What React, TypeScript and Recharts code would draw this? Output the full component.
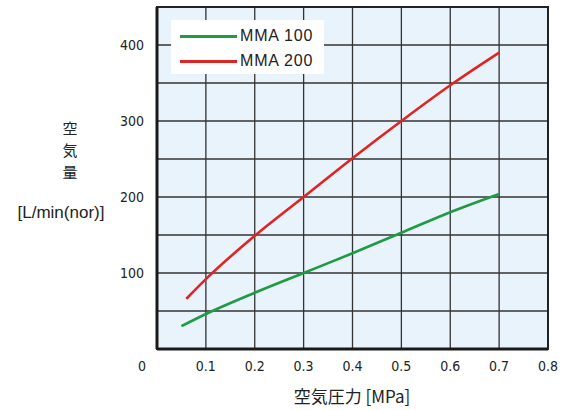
import React from "react";
import {
  LineChart,
  Line,
  XAxis,
  YAxis,
  CartesianGrid,
  ReferenceArea,
} from "recharts";

const mma100X = [0.05, 0.1, 0.2, 0.3, 0.4, 0.5, 0.6, 0.7];
const mma100Y = [30, 46, 74, 100, 126, 153, 180, 204];
const mma200X = [0.06, 0.1, 0.2, 0.3, 0.4, 0.5, 0.6, 0.7];
const mma200Y = [66, 92, 149, 200, 251, 300, 347, 390];
const xTicks = [0, 0.1, 0.2, 0.3, 0.4, 0.5, 0.6, 0.7, 0.8];
const yTicks = [0, 50, 100, 150, 200, 250, 300, 350, 400, 450];
const yLabeled = [100, 200, 300, 400];
const seriesNames = ["MMA 100", "MMA 200"];
const xTitle = "空気圧力 [MPa]";
const yTitleChars = ["空", "気", "量"];
const yUnit = "[L/min(nor)]";

const mma100 = mma100X.map((x, i) => ({ x, y: mma100Y[i] }));
const mma200 = mma200X.map((x, i) => ({ x, y: mma200Y[i] }));

const GREEN = "#1f9a45";
const RED = "#e02424";
const NUM_FONT = "'DejaVu Sans Condensed', 'Liberation Sans', sans-serif";
const JP_FONT = "'Noto Sans CJK JP', 'Liberation Sans', sans-serif";

const XTick = (props: any) => {
  const { x, y, payload } = props;
  const v = payload.value;
  const label = v === 0 ? "0" : v.toFixed(1);
  return (
    <text
      x={x + (v === 0 ? -15 : 0)}
      y={y + 14}
      textAnchor="middle"
      fontFamily={NUM_FONT}
      fontSize={14}
      fill="#222"
    >
      {label}
    </text>
  );
};

const YTick = (props: any) => {
  const { x, y, payload } = props;
  if (!yLabeled.includes(payload.value)) return <g />;
  return (
    <text
      x={x - 5}
      y={y + 5}
      textAnchor="end"
      fontFamily={NUM_FONT}
      fontSize={14}
      fill="#222"
    >
      {payload.value}
    </text>
  );
};

export default function App() {
  return (
    <div style={{ position: "absolute", left: 0, top: 0, width: 564, height: 410, background: "#fff" }}>
      <LineChart
        width={564}
        height={410}
        margin={{ top: 7, right: 16, bottom: 0, left: 0 }}
      >
        <CartesianGrid
          stroke="#333"
          strokeWidth={1.3}
          fill="#e9f3fc"
          fillOpacity={1}
          horizontalValues={yTicks}
          verticalValues={xTicks}
        />
        <XAxis
          type="number"
          dataKey="x"
          domain={[0, 0.8]}
          ticks={xTicks}
          tick={<XTick />}
          tickLine={false}
          axisLine={{ stroke: "#1a1a1a", strokeWidth: 3 }}
          height={61}
          allowDataOverflow
        />
        <YAxis
          type="number"
          dataKey="y"
          domain={[0, 450]}
          ticks={yTicks}
          tick={<YTick />}
          tickLine={false}
          axisLine={{ stroke: "#1a1a1a", strokeWidth: 3 }}
          width={157}
          interval={0}
          allowDataOverflow
        />
        <ReferenceArea
          x1={0}
          x2={0.8}
          y1={0}
          y2={450}
          fill="none"
          stroke="#222"
          strokeWidth={2}
          ifOverflow="visible"
        />
        <Line
          data={mma100}
          dataKey="y"
          name={seriesNames[0]}
          type="monotone"
          stroke={GREEN}
          strokeWidth={2.6}
          dot={false}
          isAnimationActive={false}
        />
        <Line
          data={mma200}
          dataKey="y"
          name={seriesNames[1]}
          type="monotone"
          stroke={RED}
          strokeWidth={2.6}
          dot={false}
          isAnimationActive={false}
        />
      </LineChart>
      <div
        style={{
          position: "absolute",
          left: 171,
          top: 20,
          width: 153,
          height: 54,
          background: "#ffffff",
          fontFamily: "'Liberation Sans', Arial, sans-serif",
          fontSize: 16,
          letterSpacing: 0.8,
          color: "#222",
        }}
      >
        {[GREEN, RED].map((c, i) => (
          <div
            key={i}
            style={{
              position: "absolute",
              left: 9,
              top: 7 + i * 25,
              height: 18,
              display: "flex",
              alignItems: "center",
            }}
          >
            <div style={{ width: 57, height: 3, background: c }} />
            <span style={{ marginLeft: 3, lineHeight: "18px", whiteSpace: "nowrap" }}>{seriesNames[i]}</span>
          </div>
        ))}
      </div>
      <div
        style={{
          position: "absolute",
          left: 57,
          top: 117,
          width: 26,
          fontFamily: JP_FONT,
          fontSize: 15,
          lineHeight: "22px",
          textAlign: "center",
          color: "#222",
        }}
      >
        {yTitleChars.map((c, i) => (
          <div key={i} style={{ height: 22 }}>{c}</div>
        ))}
      </div>
      <div
        style={{
          position: "absolute",
          left: 0,
          top: 203,
          width: 122,
          textAlign: "center",
          fontFamily: "'Liberation Sans', sans-serif",
          fontSize: 17,
          color: "#222",
          whiteSpace: "nowrap",
        }}
      >
        {yUnit}
      </div>
      <div
        style={{
          position: "absolute",
          left: 252,
          top: 385,
          width: 200,
          textAlign: "center",
          fontFamily: JP_FONT,
          fontSize: 17,
          lineHeight: "22px",
          color: "#222",
          whiteSpace: "nowrap",
        }}
      >
        {xTitle}
      </div>
    </div>
  );
}
